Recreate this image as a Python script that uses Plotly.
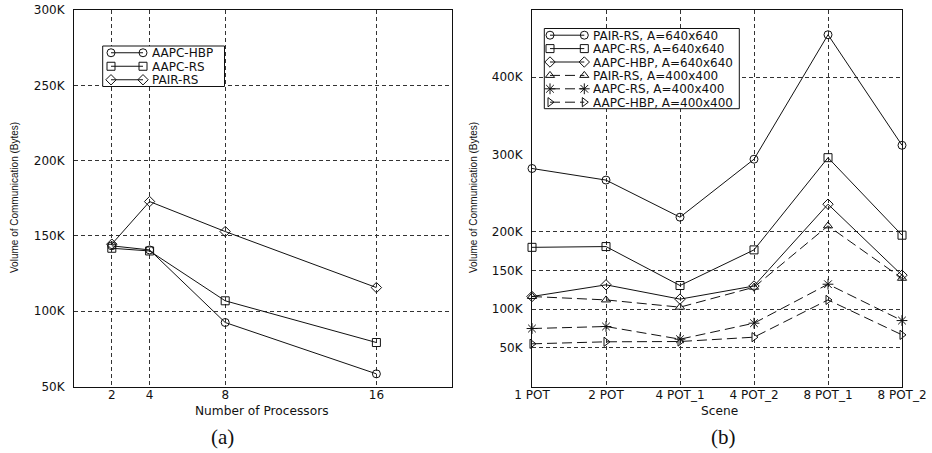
import plotly.graph_objects as go

# ---------------- data: panel (a) ----------------
procs = [2, 4, 8, 16]
a_hbp = [143400, 140700, 92500, 58400]
a_rs = [141800, 140000, 106900, 79200]
a_pair = [144500, 172800, 152900, 115700]
a_names = ["AAPC-HBP", "AAPC-RS", "PAIR-RS"]
a_ytickvals = [50000, 100000, 150000, 200000, 250000, 300000]
a_yticktext = ["50K", "100K", "150K", "200K", "250K", "300K"]

# ---------------- data: panel (b) ----------------
scenes = ["1 POT", "2 POT", "4 POT_1", "4 POT_2", "8 POT_1", "8 POT_2"]
b_pair_640 = [282000, 267000, 219000, 294000, 455000, 312000]
b_rs_640 = [180000, 181000, 130600, 176700, 296000, 195700]
b_hbp_640 = [116400, 131500, 113000, 130000, 235800, 144000]
b_pair_400 = [116400, 112000, 102600, 128400, 207800, 140000]
b_rs_400 = [75000, 77600, 61200, 81900, 132300, 85300]
b_hbp_400 = [55200, 57800, 58200, 63800, 112000, 66800]
b_names = ["PAIR-RS, A=640x640", "AAPC-RS, A=640x640", "AAPC-HBP, A=640x640",
           "PAIR-RS, A=400x400", "AAPC-RS, A=400x400", "AAPC-HBP, A=400x400"]
b_ytickvals = [50000, 100000, 150000, 200000, 300000, 400000]
b_yticktext = ["50K", "100K", "150K", "200K", "300K", "400K"]
b_gridvals = [50000, 100000, 150000, 200000, 400000]

# ---------------- styles ----------------
W, H = 932, 453
BLACK = "#111111"
GRID = "#333333"
GDASH = "4px,3px"
SDASH = "10px,5px"
TICKFONT = dict(family="DejaVu Sans", size=12, color=BLACK)
LEGFONT = dict(family="DejaVu Sans", size=12, color=BLACK)
a_symbols = ["circle-open", "square-open", "diamond-open"]
b_symbols = ["circle-open", "square-open", "diamond-open",
             "triangle-up-open", "asterisk-open", "triangle-right-open"]
b_dashes = ["solid", "solid", "solid", SDASH, SDASH, SDASH]

def px_x(p):
    return p / W

def px_y(p):
    return 1 - p / H

fig = go.Figure()

# panel (a) traces
for name, vals, sym in zip(a_names, [a_hbp, a_rs, a_pair], a_symbols):
    fig.add_trace(go.Scatter(
        x=procs, y=vals, name=name, mode="lines+markers",
        line=dict(color=BLACK, width=1),
        marker=dict(symbol=sym, size=8, color=BLACK, line=dict(width=1, color=BLACK)),
        cliponaxis=False, showlegend=False, xaxis="x", yaxis="y"))

# panel (b) traces
for name, vals, sym, dash in zip(b_names,
                                 [b_pair_640, b_rs_640, b_hbp_640, b_pair_400, b_rs_400, b_hbp_400],
                                 b_symbols, b_dashes):
    fig.add_trace(go.Scatter(
        x=scenes, y=vals, name=name, mode="lines+markers",
        line=dict(color=BLACK, width=1, dash=dash),
        marker=dict(symbol=sym, size=8 if sym != "asterisk-open" else 9,
                    color=BLACK, line=dict(width=1, color=BLACK)),
        cliponaxis=False, showlegend=False, xaxis="x2", yaxis="y2"))

# ---------------- custom legends (pixel overlay axes x3/y3) ----------------
def draw_legend(box, rows, sym_x, text_x, names, symbols, dashes):
    x0, y0, x1, y1 = box
    fig.add_trace(go.Scatter(
        x=[x0, x1, x1, x0, x0], y=[y0, y0, y1, y1, y0], mode="lines",
        fill="toself", fillcolor="white", line=dict(color=BLACK, width=1),
        hoverinfo="skip", showlegend=False, xaxis="x3", yaxis="y3"))
    for name, sym, dash, ry in zip(names, symbols, dashes, rows):
        fig.add_trace(go.Scatter(
            x=sym_x, y=[ry, ry], mode="lines+markers",
            line=dict(color=BLACK, width=1, dash=dash),
            marker=dict(symbol=sym, size=8 if sym != "asterisk-open" else 9,
                        color=BLACK, line=dict(width=1, color=BLACK)),
            hoverinfo="skip", showlegend=False, cliponaxis=False,
            xaxis="x3", yaxis="y3"))
        fig.add_annotation(x=text_x, y=ry, xref="x3", yref="y3", text=name,
                           showarrow=False, xanchor="left", yanchor="middle",
                           height=13, borderpad=0, font=LEGFONT)

draw_legend((102.7, 46, 224.5, 86.5), [52.75, 66.25, 79.75], [111, 143], 151,
            a_names, a_symbols, ["solid"] * 3)
draw_legend((544.3, 28.5, 739.3, 108.7), [35.2, 48.6, 62.0, 75.4, 88.8, 102.2],
            [550, 584.3], 591.5, b_names, b_symbols, b_dashes)

# ---------------- text annotations ----------------
def ann(x, y, text, font, angle=0):
    fig.add_annotation(x=x, y=y, xref="x3", yref="y3", text=text, showarrow=False,
                       xanchor="center", yanchor="middle", font=font, textangle=angle)

YTFONT = dict(family="Liberation Sans", size=10, color=BLACK)
XTFONT = dict(family="DejaVu Sans", size=12.2, color=BLACK)
CAPFONT = dict(family="Liberation Serif", size=21, color=BLACK)
ann(14, 198, "Volume of Communication (Bytes)", YTFONT, -90)
ann(473, 198, "Volume of Communication (Bytes)", YTFONT, -90)
ann(262, 410.5, "Number of Processors", XTFONT)
ann(719, 410.5, "Scene", XTFONT)
ann(222, 437, "(a)", CAPFONT)
ann(723, 437, "(b)", CAPFONT)

# ---------------- axes ----------------
common_axis = dict(showline=True, mirror=True, linecolor=BLACK, linewidth=1,
                   zeroline=False, ticks="", tickfont=TICKFONT, automargin=False)
gridstyle = dict(showgrid=True, gridcolor=GRID, gridwidth=1, griddash=GDASH)

ytop, ybot = 10, 386.5
fig.update_layout(
    width=W, height=H, autosize=False,
    margin=dict(l=0, r=0, t=0, b=0, autoexpand=False),
    paper_bgcolor="white", plot_bgcolor="rgba(0,0,0,0)",
    showlegend=False,
    xaxis=dict(domain=[px_x(74), px_x(452)], range=[0, 20], tickvals=procs,
               anchor="y", ticklabelstandoff=-3, **common_axis, **gridstyle),
    yaxis=dict(domain=[px_y(ybot), px_y(ytop)], range=[50000, 300000],
               tickvals=a_ytickvals, ticktext=a_yticktext, anchor="x",
               ticklabelstandoff=6, **common_axis, **gridstyle),
    xaxis2=dict(domain=[px_x(532), px_x(902)], type="category",
                categoryorder="array", categoryarray=scenes, range=[0, 5],
                anchor="y2", ticklabelstandoff=-3, **common_axis, **gridstyle),
    yaxis2=dict(domain=[px_y(ybot), px_y(ytop)], range=[0, 487000],
                tickvals=b_ytickvals, ticktext=b_yticktext, anchor="x2",
                showgrid=False, ticklabelstandoff=6,
                minor=dict(tickvals=b_gridvals, showgrid=True, gridcolor=GRID,
                           gridwidth=1, griddash=GDASH, ticks=""),
                **common_axis),
    xaxis3=dict(domain=[0, 1], range=[0, W], visible=False, anchor="y3",
                fixedrange=True, showgrid=False, zeroline=False, automargin=False),
    yaxis3=dict(domain=[0, 1], range=[H, 0], visible=False, anchor="x3",
                fixedrange=True, showgrid=False, zeroline=False, automargin=False),
)

fig.write_html(
    "out.html",
    config={"displayModeBar": False},
    post_script="document.body.style.margin='0';document.body.style.overflow='hidden';",
)
